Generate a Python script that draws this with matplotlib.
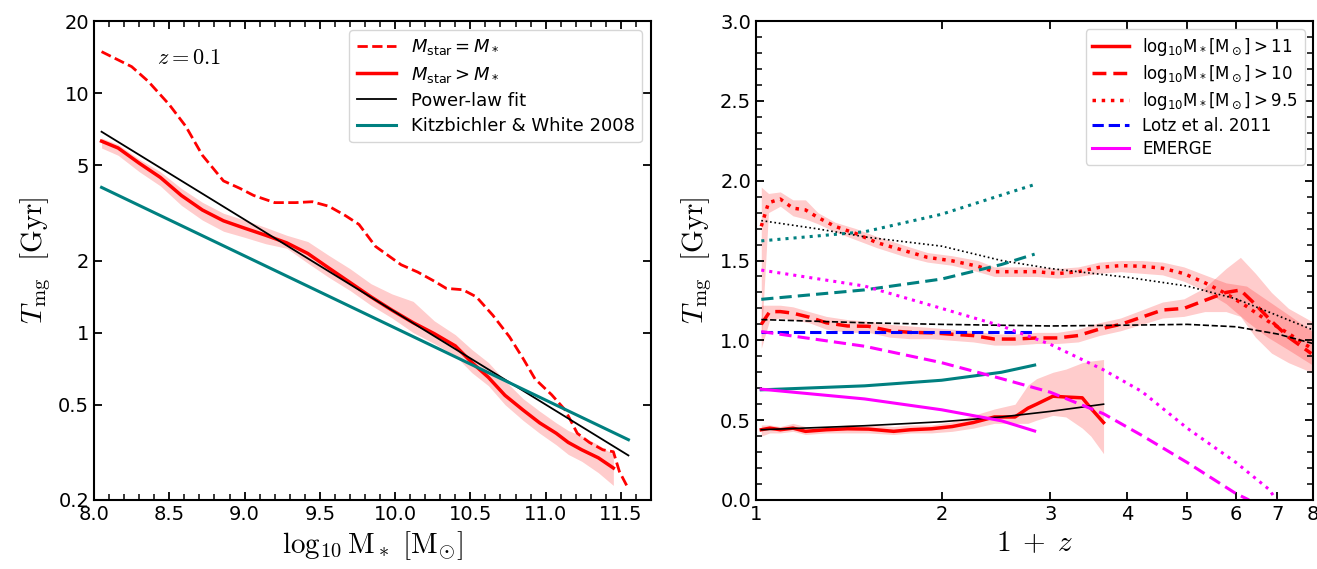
import matplotlib.pyplot as plt
import matplotlib.ticker as mticker
import numpy as np

# ---------------- left panel: T_mg vs stellar mass at z = 0.1 ----------------
mass_eq = [8.05, 8.25, 8.36, 8.50, 8.61, 8.72, 8.86, 8.97, 9.06, 9.20, 9.34, 9.45,
           9.56, 9.67, 9.76, 9.87, 10.04, 10.15, 10.26, 10.34, 10.45, 10.54, 10.65,
           10.76, 10.85, 10.93, 11.04, 11.13, 11.21, 11.29, 11.38, 11.45, 11.49, 11.54]
tmg_eq = [14.9, 12.9, 11.2, 8.95, 7.26, 5.5, 4.3, 4.0, 3.74, 3.49, 3.49, 3.52,
          3.37, 3.08, 2.83, 2.29, 1.92, 1.79, 1.64, 1.53, 1.51, 1.41, 1.18,
          0.96, 0.78, 0.64, 0.55, 0.475, 0.38, 0.348, 0.324, 0.318, 0.263, 0.229]

mass_gt = [8.05, 8.16, 8.30, 8.44, 8.58, 8.72, 8.86, 9.00, 9.14, 9.28, 9.42, 9.56,
           9.70, 9.84, 9.98, 10.12, 10.26, 10.40, 10.51, 10.62, 10.73, 10.85, 10.96,
           11.07, 11.15, 11.24, 11.35, 11.45]
tmg_gt = [6.3, 5.9, 5.1, 4.45, 3.74, 3.25, 2.93, 2.73, 2.55, 2.37, 2.14, 1.86,
          1.62, 1.41, 1.24, 1.10, 0.99, 0.88, 0.75, 0.65, 0.547, 0.475, 0.42,
          0.38, 0.348, 0.324, 0.30, 0.272]
tmg_gt_hi = [6.5, 6.1, 5.3, 4.7, 4.0, 3.5, 3.15, 2.95, 2.75, 2.55, 2.40, 2.10,
             1.85, 1.60, 1.45, 1.35, 1.12, 0.98, 0.85, 0.75, 0.63, 0.53, 0.47,
             0.42, 0.39, 0.37, 0.34, 0.31]
tmg_gt_lo = [5.9, 5.5, 4.7, 4.1, 3.4, 2.95, 2.65, 2.50, 2.35, 2.25, 1.95, 1.70,
             1.50, 1.30, 1.15, 1.00, 0.90, 0.80, 0.68, 0.60, 0.50, 0.43, 0.38,
             0.34, 0.31, 0.29, 0.26, 0.23]

fit_mass = [8.05, 11.55]
fit_tmg = [6.9, 0.307]
kw_mass = [8.05, 11.55]
kw_tmg = [4.04, 0.357]

# ---------------- right panel: T_mg vs 1+z ----------------
zp_11 = [1.02, 1.053, 1.095, 1.148, 1.203, 1.30, 1.407, 1.522, 1.672, 1.78, 1.925,
         2.08, 2.25, 2.435, 2.63, 2.76, 2.85, 3.03, 3.18, 3.38, 3.49, 3.66]
t_11 = [0.44, 0.45, 0.44, 0.45, 0.43, 0.44, 0.446, 0.444, 0.43, 0.44, 0.446,
        0.46, 0.485, 0.52, 0.52, 0.575, 0.60, 0.65, 0.645, 0.64, 0.575, 0.485]
t_11_hi = [0.47, 0.47, 0.46, 0.48, 0.46, 0.46, 0.47, 0.47, 0.46, 0.47, 0.47,
           0.49, 0.53, 0.57, 0.60, 0.72, 0.76, 0.80, 0.82, 0.86, 0.87, 0.88]
t_11_lo = [0.40, 0.42, 0.42, 0.43, 0.41, 0.42, 0.42, 0.42, 0.41, 0.42, 0.42,
           0.43, 0.45, 0.48, 0.48, 0.48, 0.50, 0.53, 0.52, 0.45, 0.40, 0.29]

zp_10 = [1.02, 1.053, 1.095, 1.148, 1.22, 1.30, 1.407, 1.522, 1.646, 1.78, 1.925,
         2.08, 2.25, 2.435, 2.63, 2.85, 3.08, 3.33, 3.6, 3.9, 4.22, 4.56, 4.94,
         5.34, 5.78, 6.1, 6.45, 6.85, 7.30, 7.95]
t_10 = [1.10, 1.18, 1.18, 1.17, 1.145, 1.11, 1.09, 1.088, 1.06, 1.05, 1.047,
        1.038, 1.03, 1.008, 1.008, 1.015, 1.015, 1.03, 1.07, 1.10, 1.145, 1.19, 1.20,
        1.25, 1.30, 1.315, 1.225, 1.12, 1.02, 0.917]
t_10_hi = [1.22, 1.22, 1.22, 1.21, 1.18, 1.15, 1.13, 1.12, 1.10, 1.09, 1.08,
           1.07, 1.06, 1.04, 1.04, 1.05, 1.05, 1.07, 1.11, 1.14, 1.19, 1.24, 1.26,
           1.33, 1.45, 1.52, 1.42, 1.30, 1.20, 1.12]
t_10_lo = [0.95, 1.13, 1.14, 1.13, 1.11, 1.07, 1.05, 1.05, 1.02, 1.01, 1.01,
           1.00, 0.99, 0.97, 0.97, 0.98, 0.98, 0.99, 1.03, 1.06, 1.10, 1.14, 1.15,
           1.18, 1.18, 1.15, 1.02, 0.92, 0.86, 0.80]

zp_95 = [1.02, 1.048, 1.095, 1.148, 1.203, 1.26, 1.343, 1.452, 1.571, 1.725, 1.896,
         2.08, 2.29, 2.435, 2.63, 2.85, 3.08, 3.33, 3.6, 3.9, 4.22, 4.56, 4.94,
         5.34, 5.78, 6.24, 6.75, 7.30, 7.95]
t_95 = [1.714, 1.862, 1.885, 1.828, 1.817, 1.77, 1.714, 1.669, 1.612, 1.566, 1.52,
        1.498, 1.464, 1.43, 1.43, 1.43, 1.418, 1.43, 1.457, 1.468, 1.464, 1.452, 1.418,
        1.361, 1.293, 1.213, 1.122, 1.043, 0.95]
t_95_hi = [1.96, 1.92, 1.93, 1.88, 1.88, 1.80, 1.74, 1.70, 1.65, 1.60, 1.55,
           1.53, 1.50, 1.46, 1.46, 1.46, 1.45, 1.46, 1.49, 1.50, 1.50, 1.49, 1.46,
           1.41, 1.36, 1.34, 1.25, 1.16, 1.06]
t_95_lo = [1.00, 1.80, 1.84, 1.78, 1.76, 1.73, 1.68, 1.63, 1.58, 1.53, 1.49,
           1.47, 1.43, 1.40, 1.40, 1.40, 1.39, 1.40, 1.42, 1.43, 1.42, 1.41, 1.37,
           1.31, 1.23, 1.12, 1.02, 0.94, 0.85]

fit_zp = [1.02, 1.25, 1.52, 2.0, 2.5, 3.0, 3.5, 4.0, 5.0, 6.0, 7.0, 8.0]
fit_95 = [1.75, 1.70, 1.645, 1.59, 1.50, 1.45, 1.42, 1.395, 1.34, 1.26, 1.156, 1.065]
fit10_zp = [1.02, 1.5, 2.0, 3.0, 4.0, 5.0, 6.0, 7.0, 8.0]
fit_10 = [1.13, 1.11, 1.10, 1.09, 1.095, 1.10, 1.085, 1.04, 0.98]
fit11_zp = [1.02, 1.5, 2.0, 2.5, 3.0, 3.66]
fit_11 = [0.44, 0.465, 0.49, 0.52, 0.555, 0.60]

kw_zp = [1.02, 1.5, 2.0, 2.5, 2.83]
kw_95 = [1.623, 1.68, 1.79, 1.91, 1.976]
kw_10 = [1.257, 1.316, 1.384, 1.475, 1.54]
kw_11 = [0.69, 0.715, 0.75, 0.80, 0.845]

lotz_zp = [1.02, 2.83]
lotz_t = [1.05, 1.05]

em11_zp = [1.02, 1.5, 2.0, 2.5, 2.83]
em11_t = [0.694, 0.633, 0.565, 0.496, 0.432]
em10_zp = [1.02, 1.5, 2.0, 2.5, 3.0, 3.66, 4.22, 5.0, 6.0, 6.3]
em10_t = [1.055, 0.963, 0.86, 0.76, 0.675, 0.54, 0.405, 0.235, 0.04, 0.0]
em95_zp = [1.02, 1.5, 2.0, 2.5, 3.0, 3.66, 4.22, 5.0, 6.0, 6.8, 6.97]
em95_t = [1.44, 1.34, 1.20, 1.09, 0.975, 0.815, 0.68, 0.45, 0.235, 0.064, 0.0]

plt.rcParams['font.size'] = 14
plt.rcParams['axes.linewidth'] = 1.5

fig = plt.figure(figsize=(13.17, 5.69), dpi=100)
ax1 = fig.add_axes([0.0714, 0.1213, 0.4229, 0.8417])
ax2 = fig.add_axes([0.574, 0.1213, 0.423, 0.8417])

for ax in (ax1, ax2):
    ax.tick_params(which='both', direction='in', top=True, right=True)
    ax.tick_params(which='major', length=6, width=1.3)
    ax.tick_params(which='minor', length=4, width=1.1)

# left
ax1.fill_between(mass_gt, tmg_gt_lo, tmg_gt_hi, color='red', alpha=0.2, lw=0)
ax1.plot(mass_eq, tmg_eq, color='red', ls='--', lw=2, label=r'$M_{\rm star}=M_*$')
ax1.plot(mass_gt, tmg_gt, color='red', lw=2.5, label=r'$M_{\rm star}>M_*$')
ax1.plot(fit_mass, fit_tmg, color='black', lw=1.3, label='Power-law fit')
ax1.plot(kw_mass, kw_tmg, color='teal', lw=2.2, label='Kitzbichler & White 2008')
ax1.set_yscale('log')
ax1.set_xlim(8.0, 11.7)
ax1.set_ylim(0.2, 20)
ax1.yaxis.set_major_locator(mticker.FixedLocator([0.2, 0.5, 1, 2, 5, 10, 20]))
ax1.yaxis.set_major_formatter(mticker.FixedFormatter(['0.2', '0.5', '1', '2', '5', '10', '20']))
ax1.yaxis.set_minor_locator(mticker.NullLocator())
ax1.xaxis.set_major_locator(mticker.MultipleLocator(0.5))
ax1.xaxis.set_minor_locator(mticker.MultipleLocator(0.1))
ax1.set_xlabel(r'$\log_{10}\mathrm{M}_*\ [\mathrm{M}_{\odot}]$', fontsize=21, math_fontfamily='cm')
ax1.set_ylabel(r'$T_{\rm mg}\ \ [\mathrm{Gyr}]$', fontsize=21, math_fontfamily='cm')
ax1.text(0.113, 0.923, r'$z=0.1$', transform=ax1.transAxes, fontsize=16,
         math_fontfamily='cm', va='center')
ax1.legend(loc='upper right', fontsize=13, labelspacing=0.4, handlelength=2.2)

# right
ax2.fill_between(zp_11, t_11_lo, t_11_hi, color='red', alpha=0.2, lw=0)
ax2.fill_between(zp_10, t_10_lo, t_10_hi, color='red', alpha=0.2, lw=0)
ax2.fill_between(zp_95, t_95_lo, t_95_hi, color='red', alpha=0.2, lw=0)
ax2.plot(zp_11, t_11, color='red', lw=2.5, label=r'log$_{10}$M$_*$[M$_\odot$]$>11$')
ax2.plot(zp_10, t_10, color='red', lw=2.5, ls=(0, (4, 2)), label=r'log$_{10}$M$_*$[M$_\odot$]$>10$')
ax2.plot(zp_95, t_95, color='red', lw=2.5, ls=':', label=r'log$_{10}$M$_*$[M$_\odot$]$>9.5$')
ax2.plot(fit11_zp, fit_11, color='black', lw=1.2)
ax2.plot(fit10_zp, fit_10, color='black', lw=1.2, ls='--')
ax2.plot(fit_zp, fit_95, color='black', lw=1.2, ls=':')
ax2.plot(kw_zp, kw_11, color='teal', lw=2.2)
ax2.plot(kw_zp, kw_10, color='teal', lw=2.2, ls=(0, (4, 2)))
ax2.plot(kw_zp, kw_95, color='teal', lw=2.2, ls=':')
ax2.plot(lotz_zp, lotz_t, color='blue', lw=2.2, ls='--', label='Lotz et al. 2011')
ax2.plot(em11_zp, em11_t, color='magenta', lw=2.2, label='EMERGE')
ax2.plot(em10_zp, em10_t, color='magenta', lw=2.2, ls=(0, (4, 2)))
ax2.plot(em95_zp, em95_t, color='magenta', lw=2.2, ls=':')
ax2.set_xscale('log')
ax2.set_xlim(1, 8)
ax2.set_ylim(0, 3)
ax2.xaxis.set_major_locator(mticker.FixedLocator([1, 2, 3, 4, 5, 6, 7, 8]))
ax2.xaxis.set_major_formatter(mticker.FixedFormatter(['1', '2', '3', '4', '5', '6', '7', '8']))
ax2.xaxis.set_minor_locator(mticker.NullLocator())
ax2.yaxis.set_major_locator(mticker.MultipleLocator(0.5))
ax2.yaxis.set_minor_locator(mticker.MultipleLocator(0.1))
ax2.set_xlabel(r'$1\;+\;z$', fontsize=21, math_fontfamily='cm')
ax2.set_ylabel(r'$T_{\rm mg}\ \ [\mathrm{Gyr}]$', fontsize=21, math_fontfamily='cm')
ax2.legend(loc='upper right', fontsize=12, labelspacing=0.3, handlelength=2.2)

plt.savefig('out.png', dpi=100)
